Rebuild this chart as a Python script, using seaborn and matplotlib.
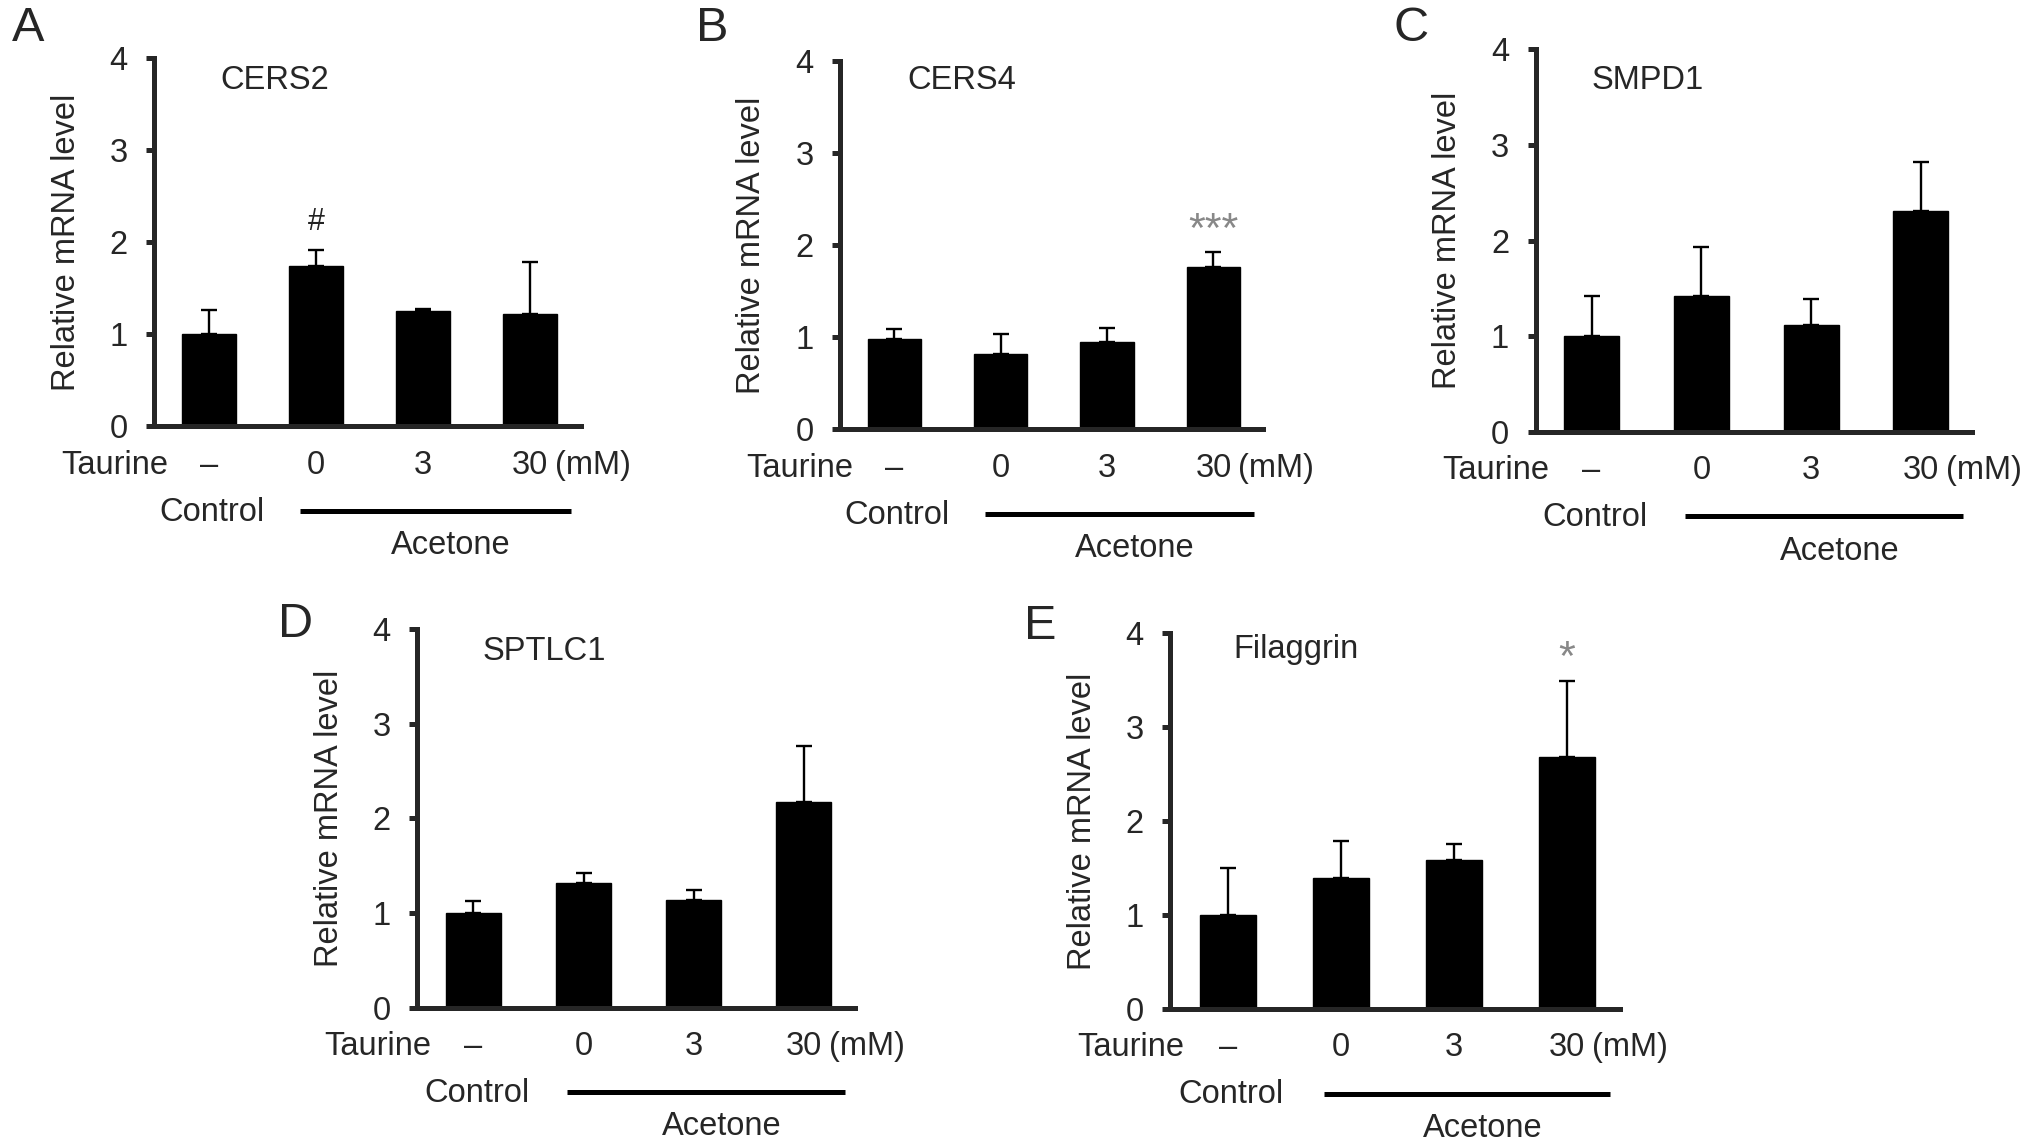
import seaborn as sns
import matplotlib.pyplot as plt
import matplotlib.transforms as mtransforms
import pandas as pd

groups = ["–", "0", "3", "30"]

cers2_mean = [1.00, 1.74, 1.25, 1.22]
cers2_err = [0.26, 0.18, 0.03, 0.57]
cers4_mean = [0.98, 0.82, 0.95, 1.76]
cers4_err = [0.11, 0.21, 0.15, 0.16]
smpd1_mean = [1.00, 1.42, 1.12, 2.31]
smpd1_err = [0.42, 0.51, 0.27, 0.51]
sptlc1_mean = [1.00, 1.32, 1.14, 2.17]
sptlc1_err = [0.13, 0.10, 0.10, 0.59]
filaggrin_mean = [1.00, 1.39, 1.58, 2.68]
filaggrin_err = [0.50, 0.40, 0.17, 0.81]

genes = ["CERS2", "CERS4", "SMPD1", "SPTLC1", "Filaggrin"]
letters = ["A", "B", "C", "D", "E"]
means = [cers2_mean, cers4_mean, smpd1_mean, sptlc1_mean, filaggrin_mean]
errs = [cers2_err, cers4_err, smpd1_err, sptlc1_err, filaggrin_err]

# significance marks: (text, bar index, y, colour, size)
marks = {
    "CERS2": ("#", 1, 2.22, "#222222", 22),
    "CERS4": ("***", 3, 2.15, "#888888", 31),
    "Filaggrin": ("*", 3, 3.72, "#888888", 31),
}

sns.set_style("ticks")
plt.rcParams["font.family"] = ["Liberation Sans", "DejaVu Sans"]
FS = 23.5

fig = plt.figure(figsize=(20.32, 11.44), dpi=100)

# panel rects in figure fractions (left, bottom, width, height)
rects = [
    (0.0759, 0.6273, 0.2098, 0.3216),
    (0.4133, 0.6250, 0.2085, 0.3216),
    (0.7557, 0.6227, 0.2150, 0.3341),
    (0.2054, 0.1193, 0.2155, 0.3307),
    (0.5759, 0.1182, 0.2213, 0.3284),
]
title_pos = [(0.155, 0.94), (0.159, 0.947), (0.128, 0.918), (0.148, 0.942), (0.141, 0.955)]
letter_pos = [(0.006, 0.975), (0.3425, 0.975), (0.6856, 0.975), (0.137, 0.4545), (0.504, 0.452)]

for i, gene in enumerate(genes):
    ax = fig.add_axes(rects[i])
    df = pd.DataFrame({"group": groups, "value": means[i]})
    sns.barplot(data=df, x="group", y="value", color="black", width=0.5,
                errorbar=None, saturation=1, ax=ax, edgecolor="black")
    ax.errorbar(range(4), means[i], yerr=[[0] * 4, errs[i]], fmt="none",
                ecolor="black", elinewidth=1.7, capsize=6, capthick=1.7)

    ax.set_ylim(0, 4)
    ax.set_xlim(-0.51, 3.47)
    ax.set_yticks([0, 1, 2, 3, 4])
    ax.set_xlabel("")
    ax.set_ylabel("Relative mRNA level", fontsize=FS, labelpad=20)
    sns.despine(ax=ax)
    for s in ["left", "bottom"]:
        ax.spines[s].set_linewidth(3.6)
    ax.tick_params(axis="y", labelsize=FS, length=6, width=3.6, pad=13)
    ax.tick_params(axis="x", labelsize=FS, length=0, pad=17)

    ax.text(*title_pos[i], gene, transform=ax.transAxes, fontsize=FS,
            ha="left", va="center")
    fig.text(*letter_pos[i], letters[i], fontsize=35, ha="left", va="center")

    if gene in marks:
        txt, xi, yv, col, sz = marks[gene]
        ax.text(xi, yv, txt, ha="center", va="center", fontsize=sz, color=col)

    below = ax.get_xaxis_transform()
    ax.annotate("Taurine", xy=(0, 0), xycoords="axes fraction",
                xytext=(10, -17), textcoords="offset points",
                ha="right", va="top", fontsize=FS)
    ax.annotate("(mM)", xy=(3, 0), xycoords=below,
                xytext=(18, -17), textcoords="offset points",
                ha="left", va="top", fontsize=FS)
    ax.annotate("Control", xy=(0.03, 0), xycoords=below,
                xytext=(0, -62), textcoords="offset points",
                ha="center", va="center", fontsize=FS)
    ax.annotate("Acetone", xy=(2.26, 0), xycoords=below,
                xytext=(0, -86), textcoords="offset points",
                ha="center", va="center", fontsize=FS)
    shift = mtransforms.ScaledTranslation(0, -61 / 72, fig.dpi_scale_trans)
    ax.plot([0.85, 3.38], [0, 0], color="black", lw=3.6,
            transform=below + shift, clip_on=False, solid_capstyle="butt")

fig.savefig("out.png", dpi=100, facecolor="white")
